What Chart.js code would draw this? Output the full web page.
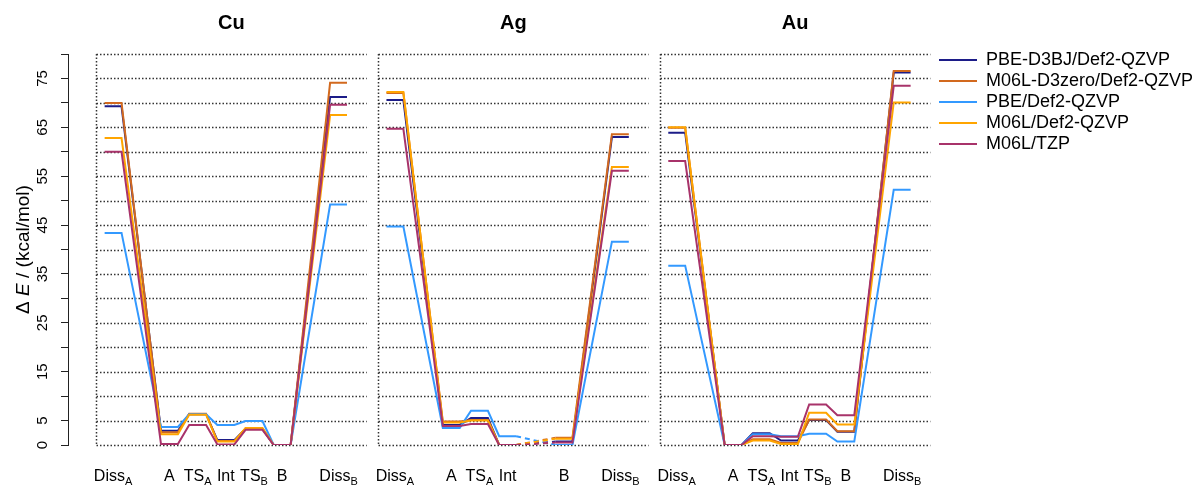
<!DOCTYPE html>
<html>
<head>
<meta charset="utf-8">
<title>Reaction energy profiles Cu / Ag / Au</title>
<script src="https://cdn.jsdelivr.net/npm/chart.js@4.4.1/dist/chart.umd.min.js"></script>
<style>
  html, body { margin: 0; padding: 0; background: #fff; }
</style>
</head>
<body>
<canvas id="energy-chart" width="1196" height="486"></canvas>
<script>
"use strict";

// Data
const metals = ["Cu", "Ag", "Au"];
const stateNames = ["Diss", "A", "TS", "Int", "TS", "B", "Diss"];
const stateSubs = ["A", "", "A", "", "B", "", "B"];
const statePos = [1, 3, 4, 5, 6, 7, 9]; // reaction coordinate of each state
const methods = ["PBE-D3BJ/Def2-QZVP", "M06L-D3zero/Def2-QZVP", "PBE/Def2-QZVP", "M06L/Def2-QZVP", "M06L/TZP"];
const methodColors = ["#1c1c88", "#d2691e", "#3399ff", "#ffa500", "#a8336a"];
const yTickLabels = [0, 5, 15, 25, 35, 45, 55, 65, 75];

// kcal/mol, one row per method, one column per state
const cuEnergies = [
  [69.3, 2.9, 6.3, 1.0, 3.3, 0.0, 71.2],
  [70.0, 2.6, 6.4, 0.8, 3.4, 0.0, 74.1],
  [43.4, 3.7, 6.3, 4.1, 4.9, 0.0, 49.2],
  [62.8, 2.2, 6.2, 0.7, 3.5, 0.0, 67.5],
  [60.0, 0.2, 4.1, 0.1, 3.1, 0.0, 69.6]
];
// no TS_B found for Ag
const agEnergies = [
  [70.6, 4.1, 5.5, 0.0, null, 0.7, 63.0],
  [72.0, 4.8, 5.1, 0.0, null, 1.5, 63.6],
  [44.7, 3.5, 7.0, 1.8, null, 0.0, 41.6],
  [72.2, 4.6, 5.0, 0.0, null, 1.3, 56.9],
  [64.7, 3.9, 4.3, 0.0, null, 0.5, 56.1]
];
const auEnergies = [
  [63.9, 0.0, 2.4, 0.9, 5.1, 2.7, 76.2],
  [64.9, 0.0, 1.2, 0.4, 5.2, 2.8, 76.5],
  [36.7, 0.0, 2.2, 1.8, 2.3, 0.7, 52.2],
  [65.0, 0.0, 0.9, 0.2, 6.6, 4.2, 70.1],
  [58.1, 0.0, 1.8, 1.7, 8.3, 6.1, 73.5]
];
const energies = [cuEnergies, agEnergies, auEnergies];

// Layout
const PLATEAU = 0.3;     // half width of an energy level
const PANEL_STEP = 10;   // x offset between the metal panels
const PANEL_LEFT = 0.4;
const PANEL_RIGHT = 10.0;
const FONT = "'Liberation Sans', Arial, sans-serif";

Chart.defaults.font.family = FONT;
Chart.defaults.color = "#000";

// one dataset per method and metal, levels joined by straight lines
const datasets = [];
methods.forEach((method, m) => {
  metals.forEach((metal, p) => {
    const pts = [];
    let broken = false;
    energies[p][m].forEach((e, s) => {
      if (e === null) { broken = true; return; }
      const x = p * PANEL_STEP + statePos[s];
      pts.push({x: x - PLATEAU, y: e, dashed: broken});
      pts.push({x: x + PLATEAU, y: e});
      broken = false;
    });
    datasets.push({
      label: method,
      metal: p,
      data: pts,
      borderColor: methodColors[m],
      backgroundColor: methodColors[m],
      borderWidth: 2,
      pointRadius: 0,
      tension: 0,
      fill: false,
      order: methods.length - 1 - m,
      segment: {
        borderDash: (ctx) => pts[ctx.p1DataIndex] && pts[ctx.p1DataIndex].dashed ? [5, 4] : undefined
      }
    });
  });
});

// dotted panel frames, titles and axis texts
const panelDecor = {
  id: "panelDecor",
  afterLayout(chart) {
    // lift the legend a little above the plot top
    if (chart.legend) {
      chart.legend.top -= 6;
      chart.legend.bottom -= 6;
    }
  },
  beforeDatasetsDraw(chart) {
    const {ctx, scales: {x, y}} = chart;
    ctx.save();
    ctx.strokeStyle = "#333";
    ctx.lineWidth = 1.5;
    ctx.setLineDash([1.5, 2]);
    metals.forEach((metal, p) => {
      const left = Math.round(x.getPixelForValue(p * PANEL_STEP + PANEL_LEFT)) + 0.5;
      const right = x.getPixelForValue(p * PANEL_STEP + PANEL_RIGHT);
      for (let v = 0; v <= 80; v += 5) {
        const py = Math.round(y.getPixelForValue(v)) + 0.5;
        ctx.beginPath();
        ctx.moveTo(left, py);
        ctx.lineTo(right, py);
        ctx.stroke();
      }
      ctx.beginPath();
      ctx.moveTo(left, y.getPixelForValue(80));
      ctx.lineTo(left, y.getPixelForValue(0));
      ctx.stroke();
    });
    ctx.restore();
  },
  afterDraw(chart) {
    const {ctx, scales: {x, y}} = chart;
    ctx.save();
    ctx.fillStyle = "#000";

    // panel titles
    ctx.font = "bold 20px " + FONT;
    ctx.textAlign = "center";
    ctx.textBaseline = "middle";
    metals.forEach((metal, p) => {
      const cx = x.getPixelForValue(p * PANEL_STEP + (PANEL_LEFT + PANEL_RIGHT) / 2);
      ctx.fillText(metal, cx, 23);
    });

    // state labels with subscripts
    ctx.textAlign = "left";
    ctx.textBaseline = "alphabetic";
    metals.forEach((metal, p) => {
      stateNames.forEach((name, s) => {
        if (energies[p].every((row) => row[s] === null)) return;
        ctx.font = "16px " + FONT;
        const w1 = ctx.measureText(name).width;
        ctx.font = "11px " + FONT;
        const w2 = stateSubs[s] ? ctx.measureText(stateSubs[s]).width : 0;
        const x0 = x.getPixelForValue(p * PANEL_STEP + statePos[s]) - (w1 + w2) / 2;
        ctx.font = "16px " + FONT;
        ctx.fillText(name, x0, 481);
        if (stateSubs[s]) {
          ctx.font = "11px " + FONT;
          ctx.fillText(stateSubs[s], x0 + w1, 485);
        }
      });
    });

    // y axis title: Delta E / (kcal/mol)
    const parts = [["Δ ", "19px "], ["E", "italic 19px "], [" / (kcal/mol)", "19px "]];
    let total = 0;
    parts.forEach((part) => { ctx.font = part[1] + FONT; total += ctx.measureText(part[0]).width; });
    ctx.translate(24, (y.top + y.bottom) / 2);
    ctx.rotate(-Math.PI / 2);
    ctx.textBaseline = "middle";
    let tx = -total / 2;
    parts.forEach((part) => {
      ctx.font = part[1] + FONT;
      ctx.fillText(part[0], tx, 0);
      tx += ctx.measureText(part[0]).width;
    });
    ctx.restore();
  }
};

const chart = new Chart(document.getElementById("energy-chart"), {
  type: "line",
  data: {datasets: datasets},
  options: {
    responsive: false,
    animation: false,
    events: [],
    layout: {padding: {left: 0, right: 0, top: 54, bottom: 41}},
    scales: {
      x: {
        type: "linear",
        min: -0.6,
        max: 30.2,
        display: false
      },
      y: {
        min: 0,
        max: 80,
        afterFit: (scale) => { scale.width = 68; },
        ticks: {
          stepSize: 5,
          autoSkip: false,
          minRotation: 90,
          maxRotation: 90,
          crossAlign: "center",
          padding: 10,
          font: {size: 15},
          color: "#000",
          callback: (v) => yTickLabels.includes(v) ? String(v) : ""
        },
        grid: {
          drawOnChartArea: false,
          drawTicks: true,
          tickLength: 7,
          color: "#222",
          lineWidth: 1
        },
        border: {display: true, color: "#222", width: 1}
      }
    },
    plugins: {
      tooltip: {enabled: false},
      legend: {
        position: "right",
        align: "start",
        reverse: true,
        maxWidth: 260,
        labels: {
          usePointStyle: true,
          pointStyle: "line",
          pointStyleWidth: 38,
          padding: 3,
          color: "#000",
          font: {size: 18},
          filter: (item, data) => data.datasets[item.datasetIndex].metal === 0
        }
      }
    }
  },
  plugins: [panelDecor]
});
</script>
</body>
</html>
